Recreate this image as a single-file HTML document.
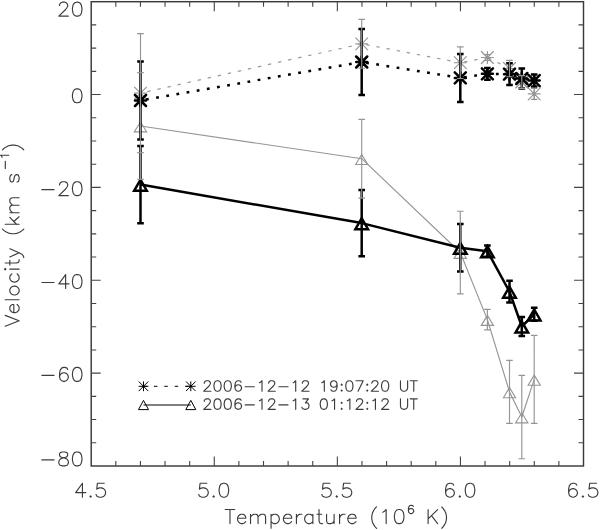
<!DOCTYPE html>
<html><head><meta charset="utf-8"><style>
html,body{margin:0;padding:0;background:#fff;}
body{width:600px;height:530px;overflow:hidden;font-family:"Liberation Sans",sans-serif;}
svg{display:block;}
</style></head><body>
<svg width="600" height="530" viewBox="0 0 600 530">
<rect width="600" height="530" fill="#fff"/>
<rect x="91.2" y="1.7" width="492.30" height="464.30" fill="none" stroke="#3a3a3a" stroke-width="1.45"/>
<path d="M91.2 442.78H96.2 M583.5 442.78H578.5 M91.2 419.57H96.2 M583.5 419.57H578.5 M91.2 396.35H96.2 M583.5 396.35H578.5 M91.2 373.14H100.7 M583.5 373.14H574.0 M91.2 349.93H96.2 M583.5 349.93H578.5 M91.2 326.71H96.2 M583.5 326.71H578.5 M91.2 303.50H96.2 M583.5 303.50H578.5 M91.2 280.28H100.7 M583.5 280.28H574.0 M91.2 257.06H96.2 M583.5 257.06H578.5 M91.2 233.85H96.2 M583.5 233.85H578.5 M91.2 210.63H96.2 M583.5 210.63H578.5 M91.2 187.42H100.7 M583.5 187.42H574.0 M91.2 164.20H96.2 M583.5 164.20H578.5 M91.2 140.99H96.2 M583.5 140.99H578.5 M91.2 117.78H96.2 M583.5 117.78H578.5 M91.2 94.56H100.7 M583.5 94.56H574.0 M91.2 71.34H96.2 M583.5 71.34H578.5 M91.2 48.13H96.2 M583.5 48.13H578.5 M91.2 24.91H96.2 M583.5 24.91H578.5 M115.81 466.0V461.0 M115.81 1.7V6.7 M140.43 466.0V461.0 M140.43 1.7V6.7 M165.04 466.0V461.0 M165.04 1.7V6.7 M189.66 466.0V461.0 M189.66 1.7V6.7 M214.28 466.0V456.5 M214.28 1.7V11.2 M238.89 466.0V461.0 M238.89 1.7V6.7 M263.51 466.0V461.0 M263.51 1.7V6.7 M288.12 466.0V461.0 M288.12 1.7V6.7 M312.74 466.0V461.0 M312.74 1.7V6.7 M337.35 466.0V456.5 M337.35 1.7V11.2 M361.96 466.0V461.0 M361.96 1.7V6.7 M386.58 466.0V461.0 M386.58 1.7V6.7 M411.19 466.0V461.0 M411.19 1.7V6.7 M435.81 466.0V461.0 M435.81 1.7V6.7 M460.43 466.0V456.5 M460.43 1.7V11.2 M485.04 466.0V461.0 M485.04 1.7V6.7 M509.66 466.0V461.0 M509.66 1.7V6.7 M534.27 466.0V461.0 M534.27 1.7V6.7 M558.89 466.0V461.0 M558.89 1.7V6.7" stroke="#444" stroke-width="1.1" fill="none"/>
<path d="M59.52 5.49 L59.52 4.83 L60.20 3.50 L60.88 2.84 L62.24 2.18 L64.96 2.18 L66.32 2.84 L67.00 3.50 L67.68 4.83 L67.68 6.16 L67.00 7.48 L65.64 9.47 L58.84 16.10 L68.36 16.10 M76.52 2.18 L74.48 2.84 L73.12 4.83 L72.44 8.14 L72.44 10.13 L73.12 13.45 L74.48 15.44 L76.52 16.10 L77.88 16.10 L79.92 15.44 L81.28 13.45 L81.96 10.13 L81.96 8.14 L81.28 4.83 L79.92 2.84 L77.88 2.18 L76.52 2.18 M76.52 88.84 L74.48 89.50 L73.12 91.49 L72.44 94.80 L72.44 96.79 L73.12 100.11 L74.48 102.10 L76.52 102.76 L77.88 102.76 L79.92 102.10 L81.28 100.11 L81.96 96.79 L81.96 94.80 L81.28 91.49 L79.92 89.50 L77.88 88.84 L76.52 88.84 M41.84 189.65 L54.08 189.65 M59.52 185.01 L59.52 184.35 L60.20 183.02 L60.88 182.36 L62.24 181.70 L64.96 181.70 L66.32 182.36 L67.00 183.02 L67.68 184.35 L67.68 185.67 L67.00 187.00 L65.64 188.99 L58.84 195.62 L68.36 195.62 M76.52 181.70 L74.48 182.36 L73.12 184.35 L72.44 187.66 L72.44 189.65 L73.12 192.97 L74.48 194.96 L76.52 195.62 L77.88 195.62 L79.92 194.96 L81.28 192.97 L81.96 189.65 L81.96 187.66 L81.28 184.35 L79.92 182.36 L77.88 181.70 L76.52 181.70 M41.84 282.51 L54.08 282.51 M65.64 274.56 L58.84 283.84 L69.04 283.84 M65.64 274.56 L65.64 288.48 M76.52 274.56 L74.48 275.22 L73.12 277.21 L72.44 280.52 L72.44 282.51 L73.12 285.83 L74.48 287.82 L76.52 288.48 L77.88 288.48 L79.92 287.82 L81.28 285.83 L81.96 282.51 L81.96 280.52 L81.28 277.21 L79.92 275.22 L77.88 274.56 L76.52 274.56 M41.84 375.37 L54.08 375.37 M67.68 369.41 L67.00 368.08 L64.96 367.42 L63.60 367.42 L61.56 368.08 L60.20 370.07 L59.52 373.38 L59.52 376.70 L60.20 379.35 L61.56 380.68 L63.60 381.34 L64.28 381.34 L66.32 380.68 L67.68 379.35 L68.36 377.36 L68.36 376.70 L67.68 374.71 L66.32 373.38 L64.28 372.72 L63.60 372.72 L61.56 373.38 L60.20 374.71 L59.52 376.70 M76.52 367.42 L74.48 368.08 L73.12 370.07 L72.44 373.38 L72.44 375.37 L73.12 378.69 L74.48 380.68 L76.52 381.34 L77.88 381.34 L79.92 380.68 L81.28 378.69 L81.96 375.37 L81.96 373.38 L81.28 370.07 L79.92 368.08 L77.88 367.42 L76.52 367.42 M41.84 459.93 L54.08 459.93 M62.24 451.98 L60.20 452.64 L59.52 453.97 L59.52 455.29 L60.20 456.62 L61.56 457.28 L64.28 457.94 L66.32 458.61 L67.68 459.93 L68.36 461.26 L68.36 463.25 L67.68 464.57 L67.00 465.24 L64.96 465.90 L62.24 465.90 L60.20 465.24 L59.52 464.57 L58.84 463.25 L58.84 461.26 L59.52 459.93 L60.88 458.61 L62.92 457.94 L65.64 457.28 L67.00 456.62 L67.68 455.29 L67.68 453.97 L67.00 452.64 L64.96 451.98 L62.24 451.98 M76.52 451.98 L74.48 452.64 L73.12 454.63 L72.44 457.94 L72.44 459.93 L73.12 463.25 L74.48 465.24 L76.52 465.90 L77.88 465.90 L79.92 465.24 L81.28 463.25 L81.96 459.93 L81.96 457.94 L81.28 454.63 L79.92 452.64 L77.88 451.98 L76.52 451.98 M82.44 483.28 L75.64 492.56 L85.84 492.56 M82.44 483.28 L82.44 497.20 M90.60 495.87 L89.92 496.54 L90.60 497.20 L91.28 496.54 L90.60 495.87 M104.20 483.28 L97.40 483.28 L96.72 489.24 L97.40 488.58 L99.44 487.92 L101.48 487.92 L103.52 488.58 L104.88 489.91 L105.56 491.90 L105.56 493.22 L104.88 495.21 L103.52 496.54 L101.48 497.20 L99.44 497.20 L97.40 496.54 L96.72 495.87 L96.04 494.55 M206.88 483.28 L200.08 483.28 L199.40 489.24 L200.08 488.58 L202.12 487.92 L204.16 487.92 L206.20 488.58 L207.56 489.91 L208.24 491.90 L208.24 493.22 L207.56 495.21 L206.20 496.54 L204.16 497.20 L202.12 497.20 L200.08 496.54 L199.40 495.87 L198.72 494.55 M213.68 495.87 L213.00 496.54 L213.68 497.20 L214.36 496.54 L213.68 495.87 M223.20 483.28 L221.16 483.94 L219.80 485.93 L219.12 489.24 L219.12 491.23 L219.80 494.55 L221.16 496.54 L223.20 497.20 L224.56 497.20 L226.60 496.54 L227.96 494.55 L228.64 491.23 L228.64 489.24 L227.96 485.93 L226.60 483.94 L224.56 483.28 L223.20 483.28 M329.95 483.28 L323.15 483.28 L322.47 489.24 L323.15 488.58 L325.19 487.92 L327.23 487.92 L329.27 488.58 L330.63 489.91 L331.31 491.90 L331.31 493.22 L330.63 495.21 L329.27 496.54 L327.23 497.20 L325.19 497.20 L323.15 496.54 L322.47 495.87 L321.79 494.55 M336.75 495.87 L336.07 496.54 L336.75 497.20 L337.43 496.54 L336.75 495.87 M350.35 483.28 L343.55 483.28 L342.87 489.24 L343.55 488.58 L345.59 487.92 L347.63 487.92 L349.67 488.58 L351.03 489.91 L351.71 491.90 L351.71 493.22 L351.03 495.21 L349.67 496.54 L347.63 497.20 L345.59 497.20 L343.55 496.54 L342.87 495.87 L342.19 494.55 M453.70 485.27 L453.02 483.94 L450.99 483.28 L449.62 483.28 L447.58 483.94 L446.22 485.93 L445.55 489.24 L445.55 492.56 L446.22 495.21 L447.58 496.54 L449.62 497.20 L450.31 497.20 L452.34 496.54 L453.70 495.21 L454.38 493.22 L454.38 492.56 L453.70 490.57 L452.34 489.24 L450.31 488.58 L449.62 488.58 L447.58 489.24 L446.22 490.57 L445.55 492.56 M459.82 495.87 L459.14 496.54 L459.82 497.20 L460.50 496.54 L459.82 495.87 M469.34 483.28 L467.31 483.94 L465.94 485.93 L465.26 489.24 L465.26 491.23 L465.94 494.55 L467.31 496.54 L469.34 497.20 L470.70 497.20 L472.75 496.54 L474.11 494.55 L474.78 491.23 L474.78 489.24 L474.11 485.93 L472.75 483.94 L470.70 483.28 L469.34 483.28 M576.78 485.27 L576.10 483.94 L574.06 483.28 L572.70 483.28 L570.66 483.94 L569.30 485.93 L568.62 489.24 L568.62 492.56 L569.30 495.21 L570.66 496.54 L572.70 497.20 L573.38 497.20 L575.42 496.54 L576.78 495.21 L577.46 493.22 L577.46 492.56 L576.78 490.57 L575.42 489.24 L573.38 488.58 L572.70 488.58 L570.66 489.24 L569.30 490.57 L568.62 492.56 M582.90 495.87 L582.22 496.54 L582.90 497.20 L583.58 496.54 L582.90 495.87 M596.50 483.28 L589.70 483.28 L589.02 489.24 L589.70 488.58 L591.74 487.92 L593.78 487.92 L595.82 488.58 L597.18 489.91 L597.86 491.90 L597.86 493.22 L597.18 495.21 L595.82 496.54 L593.78 497.20 L591.74 497.20 L589.70 496.54 L589.02 495.87 L588.34 494.55 M229.98 509.53 L229.98 523.60 M225.19 509.53 L234.78 509.53 M237.51 518.24 L245.74 518.24 L245.74 516.90 L245.05 515.56 L244.37 514.89 L243.00 514.22 L240.94 514.22 L239.57 514.89 L238.20 516.23 L237.51 518.24 L237.51 519.58 L238.20 521.59 L239.57 522.93 L240.94 523.60 L243.00 523.60 L244.37 522.93 L245.74 521.59 M250.53 514.22 L250.53 523.60 M250.53 516.90 L252.59 514.89 L253.96 514.22 L256.01 514.22 L257.38 514.89 L258.06 516.90 L258.06 523.60 M258.06 516.90 L260.12 514.89 L261.49 514.22 L263.55 514.22 L264.92 514.89 L265.60 516.90 L265.60 523.60 M271.08 514.22 L271.08 528.29 M271.08 516.23 L272.45 514.89 L273.82 514.22 L275.88 514.22 L277.25 514.89 L278.62 516.23 L279.30 518.24 L279.30 519.58 L278.62 521.59 L277.25 522.93 L275.88 523.60 L273.82 523.60 L272.45 522.93 L271.08 521.59 M283.41 518.24 L291.63 518.24 L291.63 516.90 L290.94 515.56 L290.26 514.89 L288.89 514.22 L286.84 514.22 L285.47 514.89 L284.10 516.23 L283.41 518.24 L283.41 519.58 L284.10 521.59 L285.47 522.93 L286.84 523.60 L288.89 523.60 L290.26 522.93 L291.63 521.59 M296.43 514.22 L296.43 523.60 M296.43 518.24 L297.11 516.23 L298.48 514.89 L299.85 514.22 L301.90 514.22 M312.87 514.22 L312.87 523.60 M312.87 516.23 L311.50 514.89 L310.12 514.22 L308.07 514.22 L306.70 514.89 L305.33 516.23 L304.64 518.24 L304.64 519.58 L305.33 521.59 L306.70 522.93 L308.07 523.60 L310.12 523.60 L311.50 522.93 L312.87 521.59 M319.03 509.53 L319.03 520.92 L319.72 522.93 L321.09 523.60 L322.45 523.60 M316.98 514.22 L321.77 514.22 M326.56 514.22 L326.56 520.92 L327.25 522.93 L328.62 523.60 L330.68 523.60 L332.73 522.93 L334.10 520.92 M334.10 514.22 L334.10 523.60 M339.58 514.22 L339.58 523.60 M339.58 518.24 L340.26 516.23 L341.63 514.89 L343.00 514.22 L345.06 514.22 M347.80 518.24 L356.02 518.24 L356.02 516.90 L355.34 515.56 L354.65 514.89 L353.28 514.22 L351.23 514.22 L349.86 514.89 L348.49 516.23 L347.80 518.24 L347.80 519.58 L348.49 521.59 L349.86 522.93 L351.23 523.60 L353.28 523.60 L354.65 522.93 L356.02 521.59 M376.57 506.85 L375.20 508.19 L373.83 510.20 L372.46 512.88 L371.78 516.23 L371.78 518.91 L372.46 522.26 L373.83 524.94 L375.20 526.95 L376.57 528.29 M382.74 512.21 L384.11 511.54 L386.16 509.53 L386.16 523.60 M398.49 509.53 L396.44 510.20 L395.07 512.21 L394.38 515.56 L394.38 517.57 L395.07 520.92 L396.44 522.93 L398.49 523.60 L399.86 523.60 L401.92 522.93 L403.29 520.92 L403.97 517.57 L403.97 515.56 L403.29 512.21 L401.92 510.20 L399.86 509.53 L398.49 509.53 M413.28 506.49 L412.88 505.70 L411.66 505.31 L410.85 505.31 L409.63 505.70 L408.82 506.89 L408.42 508.86 L408.42 510.84 L408.82 512.42 L409.63 513.21 L410.85 513.60 L411.25 513.60 L412.47 513.21 L413.28 512.42 L413.69 511.23 L413.69 510.84 L413.28 509.65 L412.47 508.86 L411.25 508.47 L410.85 508.47 L409.63 508.86 L408.82 509.65 L408.42 510.84 M428.12 509.68 L428.12 523.60 M437.64 509.68 L428.12 518.96 M431.52 515.64 L437.64 523.60 M441.72 507.03 L443.08 508.35 L444.44 510.34 L445.80 512.99 L446.48 516.31 L446.48 518.96 L445.80 522.27 L444.44 524.93 L443.08 526.92 L441.72 528.24 M5.18 326.27 L19.10 320.83 M5.18 315.39 L19.10 320.83 M13.80 312.67 L13.80 304.51 L12.47 304.51 L11.14 305.19 L10.48 305.87 L9.82 307.23 L9.82 309.27 L10.48 310.63 L11.81 311.99 L13.80 312.67 L15.12 312.67 L17.11 311.99 L18.44 310.63 L19.10 309.27 L19.10 307.23 L18.44 305.87 L17.11 304.51 M5.18 299.75 L19.10 299.75 M9.82 291.59 L10.48 292.95 L11.81 294.31 L13.80 294.99 L15.12 294.99 L17.11 294.31 L18.44 292.95 L19.10 291.59 L19.10 289.55 L18.44 288.19 L17.11 286.83 L15.12 286.15 L13.80 286.15 L11.81 286.83 L10.48 288.19 L9.82 289.55 L9.82 291.59 M11.81 273.91 L10.48 275.27 L9.82 276.63 L9.82 278.67 L10.48 280.03 L11.81 281.39 L13.80 282.07 L15.12 282.07 L17.11 281.39 L18.44 280.03 L19.10 278.67 L19.10 276.63 L18.44 275.27 L17.11 273.91 M5.18 269.83 L5.84 269.15 L5.18 268.47 L4.51 269.15 L5.18 269.83 M9.82 269.15 L19.10 269.15 M5.18 263.03 L16.45 263.03 L18.44 262.35 L19.10 260.99 L19.10 259.63 M9.82 265.07 L9.82 260.31 M9.82 256.91 L19.10 252.83 M9.82 248.75 L19.10 252.83 L21.75 254.19 L23.08 255.55 L23.74 256.91 L23.74 257.59 M2.53 229.03 L3.85 230.39 L5.84 231.75 L8.49 233.11 L11.81 233.79 L14.46 233.79 L17.77 233.11 L20.43 231.75 L22.42 230.39 L23.74 229.03 M5.18 224.27 L19.10 224.27 M9.82 217.47 L16.45 224.27 M13.80 221.55 L19.10 216.79 M9.82 212.71 L19.10 212.71 M12.47 212.71 L10.48 210.67 L9.82 209.31 L9.82 207.27 L10.48 205.91 L12.47 205.23 L19.10 205.23 M12.47 205.23 L10.48 203.19 L9.82 201.83 L9.82 199.79 L10.48 198.43 L12.47 197.75 L19.10 197.75 M11.81 174.63 L10.48 175.31 L9.82 177.35 L9.82 179.39 L10.48 181.43 L11.81 182.11 L13.13 181.43 L13.80 180.07 L14.46 176.67 L15.12 175.31 L16.45 174.63 L17.11 174.63 L18.44 175.31 L19.10 177.35 L19.10 179.39 L18.44 181.43 L17.11 182.11 M5.29 168.40 L5.29 161.20 M2.17 157.20 L1.78 156.40 L0.61 155.20 L8.80 155.20 M2.53 149.86 L3.85 148.50 L5.84 147.14 L8.49 145.78 L11.81 145.10 L14.46 145.10 L17.77 145.78 L20.43 147.14 L22.42 148.50 L23.74 149.86 M204.24 383.23 L204.24 382.73 L204.75 381.73 L205.27 381.24 L206.29 380.74 L208.33 380.74 L209.35 381.24 L209.86 381.73 L210.38 382.73 L210.38 383.73 L209.86 384.72 L208.84 386.22 L203.73 391.20 L210.89 391.20 M217.02 380.74 L215.49 381.24 L214.46 382.73 L213.95 385.22 L213.95 386.72 L214.46 389.21 L215.49 390.70 L217.02 391.20 L218.04 391.20 L219.57 390.70 L220.60 389.21 L221.11 386.72 L221.11 385.22 L220.60 382.73 L219.57 381.24 L218.04 380.74 L217.02 380.74 M227.24 380.74 L225.71 381.24 L224.68 382.73 L224.17 385.22 L224.17 386.72 L224.68 389.21 L225.71 390.70 L227.24 391.20 L228.26 391.20 L229.79 390.70 L230.82 389.21 L231.33 386.72 L231.33 385.22 L230.82 382.73 L229.79 381.24 L228.26 380.74 L227.24 380.74 M241.04 382.23 L240.52 381.24 L238.99 380.74 L237.97 380.74 L236.44 381.24 L235.41 382.73 L234.90 385.22 L234.90 387.71 L235.41 389.71 L236.44 390.70 L237.97 391.20 L238.48 391.20 L240.01 390.70 L241.04 389.71 L241.55 388.21 L241.55 387.71 L241.04 386.22 L240.01 385.22 L238.48 384.72 L237.97 384.72 L236.44 385.22 L235.41 386.22 L234.90 387.71 M245.12 386.72 L254.32 386.72 M259.43 382.73 L260.45 382.23 L261.99 380.74 L261.99 391.20 M268.63 383.23 L268.63 382.73 L269.14 381.73 L269.65 381.24 L270.67 380.74 L272.72 380.74 L273.74 381.24 L274.25 381.73 L274.76 382.73 L274.76 383.73 L274.25 384.72 L273.23 386.22 L268.12 391.20 L275.27 391.20 M278.85 386.72 L288.05 386.72 M293.16 382.73 L294.18 382.23 L295.71 380.74 L295.71 391.20 M302.36 383.23 L302.36 382.73 L302.87 381.73 L303.38 381.24 L304.40 380.74 L306.44 380.74 L307.47 381.24 L307.98 381.73 L308.49 382.73 L308.49 383.73 L307.98 384.72 L306.95 386.22 L301.85 391.20 L309.00 391.20 M321.77 382.73 L322.80 382.23 L324.33 380.74 L324.33 391.20 M337.10 384.22 L336.59 385.72 L335.57 386.72 L334.04 387.21 L333.53 387.21 L331.99 386.72 L330.97 385.72 L330.46 384.22 L330.46 383.73 L330.97 382.23 L331.99 381.24 L333.53 380.74 L334.04 380.74 L335.57 381.24 L336.59 382.23 L337.10 384.22 L337.10 386.72 L336.59 389.21 L335.57 390.70 L334.04 391.20 L333.02 391.20 L331.48 390.70 L330.97 389.71 M341.70 384.22 L341.19 384.72 L341.70 385.22 L342.21 384.72 L341.70 384.22 M341.70 390.20 L341.19 390.70 L341.70 391.20 L342.21 390.70 L341.70 390.20 M348.86 380.74 L347.32 381.24 L346.30 382.73 L345.79 385.22 L345.79 386.72 L346.30 389.21 L347.32 390.70 L348.86 391.20 L349.88 391.20 L351.41 390.70 L352.43 389.21 L352.95 386.72 L352.95 385.22 L352.43 382.73 L351.41 381.24 L349.88 380.74 L348.86 380.74 M363.17 380.74 L358.06 391.20 M356.01 380.74 L363.17 380.74 M367.25 384.22 L366.74 384.72 L367.25 385.22 L367.76 384.72 L367.25 384.22 M367.25 390.20 L366.74 390.70 L367.25 391.20 L367.76 390.70 L367.25 390.20 M371.85 383.23 L371.85 382.73 L372.36 381.73 L372.87 381.24 L373.90 380.74 L375.94 380.74 L376.96 381.24 L377.47 381.73 L377.98 382.73 L377.98 383.73 L377.47 384.72 L376.45 386.22 L371.34 391.20 L378.50 391.20 M384.63 380.74 L383.09 381.24 L382.07 382.73 L381.56 385.22 L381.56 386.72 L382.07 389.21 L383.09 390.70 L384.63 391.20 L385.65 391.20 L387.18 390.70 L388.20 389.21 L388.72 386.72 L388.72 385.22 L388.20 382.73 L387.18 381.24 L385.65 380.74 L384.63 380.74 M400.47 380.74 L400.47 388.21 L400.98 389.71 L402.00 390.70 L403.53 391.20 L404.56 391.20 L406.09 390.70 L407.11 389.71 L407.62 388.21 L407.62 380.74 M413.75 380.74 L413.75 391.20 M410.18 380.74 L417.33 380.74 M204.24 401.33 L204.24 400.83 L204.75 399.83 L205.27 399.34 L206.29 398.84 L208.33 398.84 L209.35 399.34 L209.86 399.83 L210.38 400.83 L210.38 401.83 L209.86 402.82 L208.84 404.32 L203.73 409.30 L210.89 409.30 M217.02 398.84 L215.49 399.34 L214.46 400.83 L213.95 403.32 L213.95 404.82 L214.46 407.31 L215.49 408.80 L217.02 409.30 L218.04 409.30 L219.57 408.80 L220.60 407.31 L221.11 404.82 L221.11 403.32 L220.60 400.83 L219.57 399.34 L218.04 398.84 L217.02 398.84 M227.24 398.84 L225.71 399.34 L224.68 400.83 L224.17 403.32 L224.17 404.82 L224.68 407.31 L225.71 408.80 L227.24 409.30 L228.26 409.30 L229.79 408.80 L230.82 407.31 L231.33 404.82 L231.33 403.32 L230.82 400.83 L229.79 399.34 L228.26 398.84 L227.24 398.84 M241.04 400.33 L240.52 399.34 L238.99 398.84 L237.97 398.84 L236.44 399.34 L235.41 400.83 L234.90 403.32 L234.90 405.81 L235.41 407.81 L236.44 408.80 L237.97 409.30 L238.48 409.30 L240.01 408.80 L241.04 407.81 L241.55 406.31 L241.55 405.81 L241.04 404.32 L240.01 403.32 L238.48 402.82 L237.97 402.82 L236.44 403.32 L235.41 404.32 L234.90 405.81 M245.12 404.82 L254.32 404.82 M259.43 400.83 L260.45 400.33 L261.99 398.84 L261.99 409.30 M268.63 401.33 L268.63 400.83 L269.14 399.83 L269.65 399.34 L270.67 398.84 L272.72 398.84 L273.74 399.34 L274.25 399.83 L274.76 400.83 L274.76 401.83 L274.25 402.82 L273.23 404.32 L268.12 409.30 L275.27 409.30 M278.85 404.82 L288.05 404.82 M293.16 400.83 L294.18 400.33 L295.71 398.84 L295.71 409.30 M302.87 398.84 L308.49 398.84 L305.42 402.82 L306.95 402.82 L307.98 403.32 L308.49 403.82 L309.00 405.31 L309.00 406.31 L308.49 407.81 L307.47 408.80 L305.93 409.30 L304.40 409.30 L302.87 408.80 L302.36 408.30 L301.85 407.31 M323.31 398.84 L321.77 399.34 L320.75 400.83 L320.24 403.32 L320.24 404.82 L320.75 407.31 L321.77 408.80 L323.31 409.30 L324.33 409.30 L325.86 408.80 L326.88 407.31 L327.39 404.82 L327.39 403.32 L326.88 400.83 L325.86 399.34 L324.33 398.84 L323.31 398.84 M331.99 400.83 L333.02 400.33 L334.55 398.84 L334.55 409.30 M341.70 402.32 L341.19 402.82 L341.70 403.32 L342.21 402.82 L341.70 402.32 M341.70 408.30 L341.19 408.80 L341.70 409.30 L342.21 408.80 L341.70 408.30 M347.32 400.83 L348.35 400.33 L349.88 398.84 L349.88 409.30 M356.52 401.33 L356.52 400.83 L357.03 399.83 L357.54 399.34 L358.57 398.84 L360.61 398.84 L361.63 399.34 L362.14 399.83 L362.65 400.83 L362.65 401.83 L362.14 402.82 L361.12 404.32 L356.01 409.30 L363.17 409.30 M367.25 402.32 L366.74 402.82 L367.25 403.32 L367.76 402.82 L367.25 402.32 M367.25 408.30 L366.74 408.80 L367.25 409.30 L367.76 408.80 L367.25 408.30 M372.87 400.83 L373.90 400.33 L375.43 398.84 L375.43 409.30 M382.07 401.33 L382.07 400.83 L382.58 399.83 L383.09 399.34 L384.12 398.84 L386.16 398.84 L387.18 399.34 L387.69 399.83 L388.20 400.83 L388.20 401.83 L387.69 402.82 L386.67 404.32 L381.56 409.30 L388.72 409.30 M400.47 398.84 L400.47 406.31 L400.98 407.81 L402.00 408.80 L403.53 409.30 L404.56 409.30 L406.09 408.80 L407.11 407.81 L407.62 406.31 L407.62 398.84 M413.75 398.84 L413.75 409.30 M410.18 398.84 L417.33 398.84" stroke="#3c3c3c" stroke-width="1.15" fill="none" stroke-linecap="round" stroke-linejoin="round"/>
<polyline points="140.50,126.00 361.70,158.70 460.30,252.50 487.40,319.60 509.50,391.90 521.80,417.00 534.20,379.40" fill="none" stroke="#959595" stroke-width="1.15" stroke-linejoin="round"/>
<path d="M134.40 131.80L140.50 121.80L146.60 131.80Z M355.60 164.50L361.70 154.50L367.80 164.50Z M454.20 258.30L460.30 248.30L466.40 258.30Z M481.30 325.40L487.40 315.40L493.50 325.40Z M503.40 397.70L509.50 387.70L515.60 397.70Z M515.70 422.80L521.80 412.80L527.90 422.80Z M528.10 385.20L534.20 375.20L540.30 385.20Z" fill="none" stroke="#959595" stroke-width="1.15" stroke-linejoin="miter"/>
<polyline points="140.50,184.60 361.70,223.10 460.30,247.70 487.40,251.20 509.50,291.60 521.80,326.50 534.20,314.30" fill="none" stroke="#000" stroke-width="2.5" stroke-linejoin="round"/>
<path d="M134.20 190.70L140.50 179.70L146.80 190.70Z M355.40 229.20L361.70 218.20L368.00 229.20Z M454.00 253.80L460.30 242.80L466.60 253.80Z M481.10 257.30L487.40 246.30L493.70 257.30Z M503.20 297.70L509.50 286.70L515.80 297.70Z M515.50 332.60L521.80 321.60L528.10 332.60Z M527.90 320.40L534.20 309.40L540.50 320.40Z" fill="none" stroke="#000" stroke-width="2.5" stroke-linejoin="miter"/>
<line x1="140.50" y1="93.10" x2="361.70" y2="43.80" stroke="#9a9a9a" stroke-width="1.25" stroke-dasharray="3.4 6.90" stroke-dashoffset="3.30"/>
<line x1="361.70" y1="43.80" x2="460.30" y2="62.70" stroke="#9a9a9a" stroke-width="1.25" stroke-dasharray="3.4 6.90" stroke-dashoffset="5.65"/>
<line x1="460.30" y1="62.70" x2="487.40" y2="57.50" stroke="#9a9a9a" stroke-width="1.25" stroke-dasharray="3.4 6.90" stroke-dashoffset="6.42"/>
<line x1="487.40" y1="57.50" x2="509.50" y2="68.50" stroke="#9a9a9a" stroke-width="1.25" stroke-dasharray="3.4 6.90" stroke-dashoffset="9.34"/>
<line x1="509.50" y1="68.50" x2="521.80" y2="82.00" stroke="#9a9a9a" stroke-width="1.25" stroke-dasharray="3.4 6.90" stroke-dashoffset="6.00"/>
<line x1="521.80" y1="82.00" x2="534.20" y2="93.80" stroke="#9a9a9a" stroke-width="1.25" stroke-dasharray="3.4 6.90" stroke-dashoffset="6.00"/>
<path d="M134.50 93.10H146.50M140.50 87.10V99.10M134.50 87.10L146.50 99.10M134.50 99.10L146.50 87.10 M355.70 43.80H367.70M361.70 37.80V49.80M355.70 37.80L367.70 49.80M355.70 49.80L367.70 37.80 M454.30 62.70H466.30M460.30 56.70V68.70M454.30 56.70L466.30 68.70M454.30 68.70L466.30 56.70 M481.40 57.50H493.40M487.40 51.50V63.50M481.40 51.50L493.40 63.50M481.40 63.50L493.40 51.50 M503.50 68.50H515.50M509.50 62.50V74.50M503.50 62.50L515.50 74.50M503.50 74.50L515.50 62.50 M515.80 82.00H527.80M521.80 76.00V88.00M515.80 76.00L527.80 88.00M515.80 88.00L527.80 76.00 M528.20 93.80H540.20M534.20 87.80V99.80M528.20 87.80L540.20 99.80M528.20 99.80L540.20 87.80" fill="none" stroke="#959595" stroke-width="1.15" stroke-linecap="round"/>
<line x1="140.50" y1="100.50" x2="361.70" y2="62.00" stroke="#000" stroke-width="2.5" stroke-dasharray="2.8 7.50" stroke-dashoffset="4.74"/>
<line x1="361.70" y1="62.00" x2="460.30" y2="77.90" stroke="#000" stroke-width="2.5" stroke-dasharray="2.8 7.50" stroke-dashoffset="5.87"/>
<line x1="460.30" y1="77.90" x2="487.40" y2="73.80" stroke="#000" stroke-width="2.5" stroke-dasharray="2.8 7.50" stroke-dashoffset="6.53"/>
<line x1="487.40" y1="73.80" x2="509.50" y2="74.20" stroke="#000" stroke-width="2.5" stroke-dasharray="2.8 7.50" stroke-dashoffset="1.80"/>
<line x1="509.50" y1="74.20" x2="521.80" y2="78.50" stroke="#000" stroke-width="2.5" stroke-dasharray="2.8 7.50" stroke-dashoffset="5.70"/>
<line x1="521.80" y1="78.50" x2="534.20" y2="80.60" stroke="#000" stroke-width="2.5" stroke-dasharray="2.8 7.50" stroke-dashoffset="5.70"/>
<path d="M135.00 100.50H146.00M140.50 95.00V106.00M135.00 95.00L146.00 106.00M135.00 106.00L146.00 95.00 M356.20 62.00H367.20M361.70 56.50V67.50M356.20 56.50L367.20 67.50M356.20 67.50L367.20 56.50 M454.80 77.90H465.80M460.30 72.40V83.40M454.80 72.40L465.80 83.40M454.80 83.40L465.80 72.40 M481.90 73.80H492.90M487.40 68.30V79.30M481.90 68.30L492.90 79.30M481.90 79.30L492.90 68.30 M504.00 74.20H515.00M509.50 68.70V79.70M504.00 68.70L515.00 79.70M504.00 79.70L515.00 68.70 M516.30 78.50H527.30M521.80 73.00V84.00M516.30 73.00L527.30 84.00M516.30 84.00L527.30 73.00 M528.70 80.60H539.70M534.20 75.10V86.10M528.70 75.10L539.70 86.10M528.70 86.10L539.70 75.10" fill="none" stroke="#000" stroke-width="2.5" stroke-linecap="round"/>
<path d="M140.50 146.00V223.20M137.20 146.00H143.80M137.20 223.20H143.80 M361.70 190.00V256.20M358.40 190.00H365.00M358.40 256.20H365.00 M460.30 224.00V271.40M457.00 224.00H463.60M457.00 271.40H463.60 M487.40 245.60V256.80M484.10 245.60H490.70M484.10 256.80H490.70 M509.50 280.80V302.40M506.20 280.80H512.80M506.20 302.40H512.80 M521.80 317.00V336.00M518.50 317.00H525.10M518.50 336.00H525.10 M534.20 307.80V320.80M530.90 307.80H537.50M530.90 320.80H537.50 M140.50 61.50V139.50M137.20 61.50H143.80M137.20 139.50H143.80 M361.70 29.00V95.00M358.40 29.00H365.00M358.40 95.00H365.00 M460.30 53.90V101.90M457.00 53.90H463.60M457.00 101.90H463.60 M487.40 67.90V79.70M484.10 67.90H490.70M484.10 79.70H490.70 M509.50 63.30V85.10M506.20 63.30H512.80M506.20 85.10H512.80 M521.80 68.50V88.50M518.50 68.50H525.10M518.50 88.50H525.10 M534.20 74.60V86.60M530.90 74.60H537.50M530.90 86.60H537.50" fill="none" stroke="#000" stroke-width="2.5"/>
<path d="M140.50 72.60V179.40M137.20 72.60H143.80M137.20 179.40H143.80 M361.70 119.30V198.10M358.40 119.30H365.00M358.40 198.10H365.00 M460.30 211.20V293.80M457.00 211.20H463.60M457.00 293.80H463.60 M487.40 309.30V329.90M484.10 309.30H490.70M484.10 329.90H490.70 M509.50 360.40V423.40M506.20 360.40H512.80M506.20 423.40H512.80 M521.80 375.30V458.70M518.50 375.30H525.10M518.50 458.70H525.10 M534.20 335.40V423.40M530.90 335.40H537.50M530.90 423.40H537.50 M140.50 33.60V152.60M137.20 33.60H143.80M137.20 152.60H143.80 M361.70 19.40V68.20M358.40 19.40H365.00M358.40 68.20H365.00 M460.30 46.90V78.50M457.00 46.90H463.60M457.00 78.50H463.60 M487.40 54.50V60.50M484.10 54.50H490.70M484.10 60.50H490.70 M509.50 60.30V76.70M506.20 60.30H512.80M506.20 76.70H512.80 M521.80 75.60V88.40M518.50 75.60H525.10M518.50 88.40H525.10 M534.20 88.30V99.30M530.90 88.30H537.50M530.90 99.30H537.50" fill="none" stroke="#959595" stroke-width="1.15"/>
<path d="M143.5 386.3H190.8" stroke="#000" stroke-width="1.0" stroke-dasharray="3.5 6.9" fill="none"/>
<path d="M139.00 386.30H148.00M143.50 381.80V390.80M139.00 381.80L148.00 390.80M139.00 390.80L148.00 381.80 M186.30 386.30H195.30M190.80 381.80V390.80M186.30 381.80L195.30 390.80M186.30 390.80L195.30 381.80" stroke="#000" stroke-width="1.0" fill="none" stroke-linecap="round"/><circle cx="143.5" cy="386.3" r="1.1"/><circle cx="190.8" cy="386.3" r="1.1"/>
<path d="M143.5 405.0H190.8" stroke="#000" stroke-width="1.0" fill="none"/>
<path d="M138.50 409.60L143.50 400.40L148.50 409.60Z M185.80 409.60L190.80 400.40L195.80 409.60Z" stroke="#000" stroke-width="1.0" fill="none" stroke-linejoin="round"/>
</svg>
</body></html>
